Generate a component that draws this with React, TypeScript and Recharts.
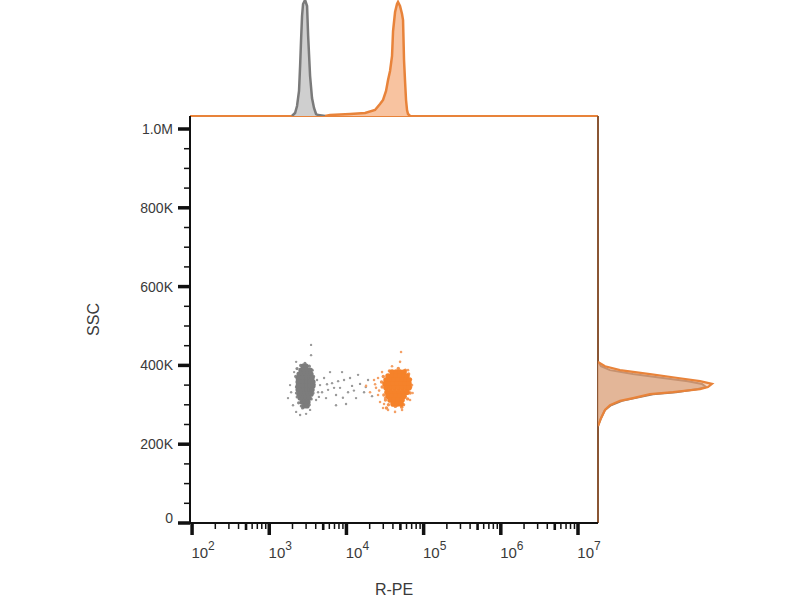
import { ScatterChart, Scatter, XAxis, YAxis, ReferenceLine, AreaChart, Area } from 'recharts'

// R-PE axis (log) and SSC axis (thousands)
const rpeDomain = [94, 18160000]
const sscDomain = [0, 1033]
const xMajorTicks = [1e2, 1e3, 1e4, 1e5, 1e6, 1e7]
const xMinorSteps = [2, 3, 4, 5, 6, 7, 8, 9]
const sscTicks = [0, 50, 100, 150, 200, 250, 300, 350, 400, 450, 500, 550, 600, 650, 700, 750, 800, 850, 900, 950, 1000]

// events: [R-PE, SSC (K)]
const grayCore = [
  [2740, 398], [3000, 398],
  [2580, 388], [2820, 388], [3090, 388], [3380, 388],
  [2430, 378], [2660, 378], [2910, 378], [3180, 378], [3480, 378],
  [2360, 368], [2580, 368], [2820, 368], [3090, 368], [3380, 368], [3590, 368],
  [2360, 358], [2580, 358], [2820, 358], [3090, 358], [3380, 358], [3690, 358],
  [2360, 348], [2580, 348], [2820, 348], [3090, 348], [3380, 348], [3690, 348],
  [2360, 338], [2580, 338], [2820, 338], [3090, 338], [3380, 338], [3590, 338],
  [2430, 327], [2660, 327], [2910, 327], [3180, 327], [3480, 327],
  [2510, 317], [2740, 317], [3000, 317], [3280, 317],
  [2660, 307], [2910, 307], [3180, 307],
  [2820, 297], [3090, 297],
]
const grayFringe = [
  [2290, 392], [2200, 372], [2250, 345], [2300, 320], [2400, 305], [2600, 297],
  [3300, 300], [3500, 315], [3700, 330], [3800, 352], [3750, 372], [3600, 388],
  [3300, 398], [2550, 400], [2900, 405], [2700, 292], [2450, 360], [2250, 330],
]
const grayScatter = [
  [1750, 317], [1920, 332], [2030, 299], [2230, 282], [2510, 274], [3000, 277],
  [3380, 287], [4040, 312], [4290, 332], [4160, 363], [3480, 452], [3480, 426],
  [1860, 350], [2100, 383], [2230, 409],
  [4550, 350], [5130, 368], [5780, 338], [6510, 355], [7330, 325], [8260, 343],
  [9310, 363], [10490, 332], [11820, 348], [13320, 317], [15010, 353], [16910, 332],
  [19050, 363], [9880, 302], [7330, 299], [5440, 317], [14140, 376], [8770, 383],
  [21460, 322], [6130, 383], [4830, 332], [6910, 343], [11130, 368],
  [4400, 320], [5600, 352], [7800, 360], [9000, 318], [12500, 336], [17800, 345],
]
const orangeCore = [
  [38970, 383], [43920, 383], [49490, 383], [55770, 383],
  [34590, 373], [38970, 373], [43920, 373], [49490, 373], [55770, 373], [60950, 373],
  [32580, 363], [36720, 363], [41370, 363], [46620, 363], [52530, 363], [59200, 363], [64700, 363],
  [31620, 353], [35640, 353], [40140, 353], [45230, 353], [50980, 353], [57420, 353], [64700, 353],
  [32580, 343], [36720, 343], [41370, 343], [46620, 343], [52530, 343], [59200, 343], [64700, 343],
  [33570, 332], [37820, 332], [42620, 332], [48020, 332], [54100, 332], [60950, 332],
  [34590, 322], [38970, 322], [43920, 322], [49490, 322], [55770, 322],
  [36720, 312], [41370, 312], [46620, 312], [52530, 312],
  [40140, 302], [45230, 302], [50980, 302],
]
const orangeFringe = [
  [30000, 372], [29000, 345], [30500, 325], [32000, 312], [35000, 300], [43000, 296],
  [55000, 300], [62000, 315], [67000, 330], [68000, 345], [67500, 365], [64000, 378],
  [58000, 388], [47000, 392], [36000, 386], [28500, 358], [33000, 292], [52000, 294],
]
const orangeScatter = [
  [25670, 325], [27240, 307], [29790, 292], [34590, 287], [42620, 282], [52530, 287],
  [66700, 312], [70800, 350], [62840, 388], [49490, 409], [50980, 434], [24180, 343],
  [22780, 363], [28920, 383], [38970, 398], [20220, 332], [17950, 348], [31620, 317],
  [25670, 368], [30690, 302], [23500, 352], [26500, 336], [72000, 330],
]

// top histogram (R-PE bins)
const grayTopRpe = [1970, 2160, 2290, 2430, 2510, 2580, 2660, 2740, 2910, 3090, 3190, 3380, 3580, 3800, 4040, 4290, 5300]
const grayTopCount = [0, 3, 10, 25, 50, 75, 100, 112, 116, 110, 80, 40, 18, 8, 2, 1, 0]
const orangeTopRpe = [5300, 6130, 11140, 17430, 23450, 27220, 29790, 32580, 34590, 36720, 38970, 40170, 42660, 45190, 46570, 49430, 52480, 54100, 55710, 57420, 59150, 60950, 62790, 66680]
const orangeTopCount = [0, 1, 2, 3, 6, 12, 16, 25, 36, 45, 60, 85, 104, 112, 114, 110, 102, 96, 56, 35, 16, 6, 2, 0]

// right histogram (SSC bins, K)
const sideSsc = [409, 398, 388, 378, 368, 360, 353, 345, 340, 332, 327, 317, 310, 299, 287, 266, 246]
const orangeSideCount = [0, 7, 22, 52, 80, 102, 114, 110, 102, 75, 52, 35, 22, 12, 7, 3, 0]
const graySideCount = [0, 3, 12, 35, 65, 90, 104, 108, 100, 78, 55, 37, 24, 13, 7, 3, 0]

const FONT = '"Liberation Sans", Arial, sans-serif'
const TEXT = '#3a3a3a'
const ORANGE = '#e8833a'
const GRAY = '#7c7c7c'

const toPoints = (arr: number[][]) => arr.map(([x, y]) => ({ x, y }))
const zip = (xs: number[], ys: number[], kx: string, ky: string) =>
  xs.map((v, i) => ({ [kx]: v, [ky]: ys[i] }))

const xTicks = xMajorTicks.flatMap((m) => (m < 1e7 ? [m, ...xMinorSteps.map((s) => s * m)] : [m]))

function XTick(props: any) {
  const { x, y, payload } = props
  const v = payload.value
  const exp = Math.floor(Math.log10(v) + 1e-9)
  const step = Math.round(v / Math.pow(10, exp))
  if (step === 1) {
    return (
      <g>
        <rect x={x - 1.75} y={y} width={3.5} height={12} fill="#111" />
        <text x={x + 11} y={y + 35} textAnchor="middle" fill={TEXT} fontSize={15} fontFamily={FONT}>
          <tspan>10</tspan>
          <tspan dy={-8} fontSize={12}>{exp}</tspan>
        </text>
      </g>
    )
  }
  const w = step === 5 ? 2.6 : 1.5
  return <rect x={x - w / 2} y={y} width={w} height={step === 5 ? 7 : 6} fill="#111" />
}

function YTick(props: any) {
  const { x, y, payload } = props
  const v = payload.value
  if (v % 200 !== 0) {
    return <rect x={x - 6} y={y - 0.75} width={6} height={1.5} fill="#111" />
  }
  const label = v === 0 ? '0' : v === 1000 ? '1.0M' : `${v}K`
  return (
    <g>
      <rect x={x - 12} y={y - 1.75} width={12} height={3.5} fill="#111" />
      <text x={x - 17} y={v === 0 ? y - 5 : y} dy="0.36em" textAnchor="end" fill={TEXT} fontSize={14} fontFamily={FONT}>
        {label}
      </text>
    </g>
  )
}

function SscTitle(props: any) {
  const { viewBox } = props
  const cx = viewBox.x + 13
  const cy = viewBox.y + viewBox.height / 2
  return (
    <text x={cx} y={cy} transform={`rotate(-90 ${cx} ${cy})`} textAnchor="middle" dy="0.36em" fill={TEXT} fontSize={16} fontFamily={FONT}>
      SSC
    </text>
  )
}

export default function App() {
  const dot = (r: number, fill: string) => (p: any) => <circle cx={p.cx} cy={p.cy} r={r} fill={fill} />
  return (
    <div style={{ position: 'absolute', left: 0, top: 0, width: 800, height: 600, background: '#fff', fontFamily: FONT }}>
      <div style={{ position: 'absolute', left: 0, top: 0 }}>
        <ScatterChart width={800} height={600} margin={{ top: 116, right: 202, bottom: 3, left: 80 }}>
          <XAxis
            type="number"
            dataKey="x"
            scale="log"
            domain={rpeDomain}
            allowDataOverflow
            ticks={xTicks}
            interval={0}
            height={74}
            tickSize={0}
            tickMargin={0}
            tickLine={false}
            tick={<XTick />}
            axisLine={{ stroke: '#111', strokeWidth: 2 }}
            label={{ value: 'R-PE', position: 'insideBottom', offset: 2, fill: TEXT, fontSize: 16, fontFamily: FONT }}
          />
          <YAxis
            type="number"
            dataKey="y"
            domain={sscDomain}
            allowDataOverflow
            ticks={sscTicks}
            interval={0}
            width={110}
            tickSize={0}
            tickMargin={0}
            tickLine={false}
            tick={<YTick />}
            axisLine={{ stroke: '#111', strokeWidth: 2 }}
            label={<SscTitle />}
          />
          <ReferenceLine y={sscDomain[1]} stroke={ORANGE} strokeWidth={2} />
          <ReferenceLine x={rpeDomain[1]} stroke="#8a5634" strokeWidth={2} />
          <Scatter data={toPoints(grayScatter)} shape={dot(1.2, '#9a9a9a')} isAnimationActive={false} />
          <Scatter data={toPoints(orangeScatter)} shape={dot(1.3, '#f4a066')} isAnimationActive={false} />
          <Scatter data={toPoints(grayFringe)} shape={dot(1.6, '#8a8a8a')} isAnimationActive={false} />
          <Scatter data={toPoints(orangeFringe)} shape={dot(1.7, '#f39450')} isAnimationActive={false} />
          <Scatter data={toPoints(grayCore)} shape={dot(2.6, GRAY)} isAnimationActive={false} />
          <Scatter data={toPoints(orangeCore)} shape={dot(2.8, '#f5822a')} isAnimationActive={false} />
        </ScatterChart>
      </div>

      <div style={{ position: 'absolute', left: 0, top: 0 }}>
        <AreaChart width={800} height={116} margin={{ top: 0, right: 202, bottom: 0, left: 190 }}>
          <XAxis type="number" dataKey="rpe" scale="log" domain={rpeDomain} allowDataOverflow hide />
          <YAxis type="number" domain={[0, 116]} allowDataOverflow hide />
          <Area
            data={zip(grayTopRpe, grayTopCount, 'rpe', 'count')}
            dataKey="count"
            type="linear"
            stroke="#7a7a7a"
            strokeWidth={2.5}
            fill="#cfcfcf"
            fillOpacity={1}
            isAnimationActive={false}
          />
          <Area
            data={zip(orangeTopRpe, orangeTopCount, 'rpe', 'count')}
            dataKey="count"
            type="linear"
            stroke={ORANGE}
            strokeWidth={2.5}
            fill="#f8c3a0"
            fillOpacity={1}
            isAnimationActive={false}
          />
        </AreaChart>
      </div>

      <div style={{ position: 'absolute', left: 598, top: 116 }}>
        <AreaChart layout="vertical" width={130} height={407} margin={{ top: 0, right: 0, bottom: 0, left: 0 }}>
          <XAxis type="number" domain={[0, 130]} allowDataOverflow hide />
          <YAxis type="number" dataKey="ssc" domain={sscDomain} allowDataOverflow reversed hide />
          <Area
            data={zip(sideSsc, graySideCount, 'ssc', 'count')}
            dataKey="count"
            type="linear"
            stroke="#9a7a66"
            strokeWidth={2}
            fill="#c9b5a6"
            fillOpacity={0.8}
            isAnimationActive={false}
          />
          <Area
            data={zip(sideSsc, orangeSideCount, 'ssc', 'count')}
            dataKey="count"
            type="linear"
            stroke={ORANGE}
            strokeWidth={2.2}
            fill="#f2a878"
            fillOpacity={0.5}
            isAnimationActive={false}
          />
        </AreaChart>
      </div>
    </div>
  )
}
